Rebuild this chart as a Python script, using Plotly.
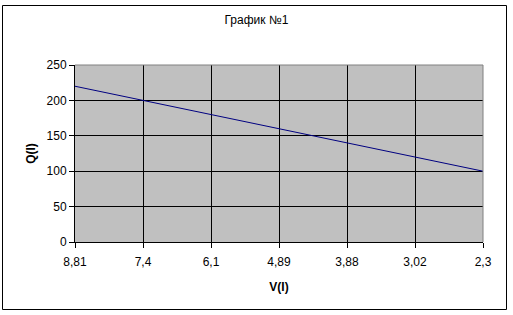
import plotly.graph_objects as go

categories = ["8,81", "7,4", "6,1", "4,89", "3,88", "3,02", "2,3"]
q_values = [220, 200, 180, 160, 140, 120, 100]
y_ticks = [0, 50, 100, 150, 200, 250]

W, H = 513, 315
L, R, T, B = 75, 30, 65, 73
pw, ph = W - L - R, H - T - B

def px(x):
    return (x - L) / pw

def py(y):
    return (H - B - y) / ph

fig = go.Figure()
fig.add_trace(go.Scatter(
    x=categories, y=q_values, mode="lines",
    line=dict(color="#000080", width=1), showlegend=False,
))

font = "Liberation Sans, Arial, sans-serif"

fig.update_layout(
    width=W, height=H,
    margin=dict(l=L, r=R, t=T, b=B),
    paper_bgcolor="white",
    plot_bgcolor="#C0C0C0",
    font=dict(family=font, size=12, color="black"),
    title=dict(text="График №1", x=0.5, xref="container", xanchor="center",
               y=1 - 20 / H, yanchor="middle", font=dict(size=12)),
    xaxis=dict(
        type="category", range=[0, len(categories) - 1],
        showgrid=True, gridcolor="black", gridwidth=1,
        showline=True, linecolor="black", linewidth=1,
        ticks="outside", ticklen=5, tickcolor="black",
        tickfont=dict(size=12), zeroline=False, ticklabelstandoff=4,
        title=dict(text="<b>V(I)</b>", font=dict(size=12), standoff=14),
    ),
    yaxis=dict(
        range=[0, 250], tickvals=y_ticks,
        showgrid=True, gridcolor="black", gridwidth=1,
        showline=True, linecolor="black", linewidth=1,
        ticks="outside", ticklen=5, tickcolor="black",
        tickfont=dict(size=12), zeroline=False,
        title=dict(text="<b>Q(I)</b>", font=dict(size=12), standoff=8),
    ),
    shapes=[
        dict(type="line", xref="paper", yref="paper", x0=0, x1=1, y0=1, y1=1,
             line=dict(color="#808080", width=1)),
        dict(type="line", xref="paper", yref="paper", x0=1, x1=1, y0=0, y1=1,
             line=dict(color="#808080", width=1)),
        dict(type="rect", xref="paper", yref="paper",
             x0=px(2.5), x1=px(506.5), y0=py(309.5), y1=py(5.5),
             line=dict(color="black", width=1)),
    ],
)

fig.write_html("out.html")
